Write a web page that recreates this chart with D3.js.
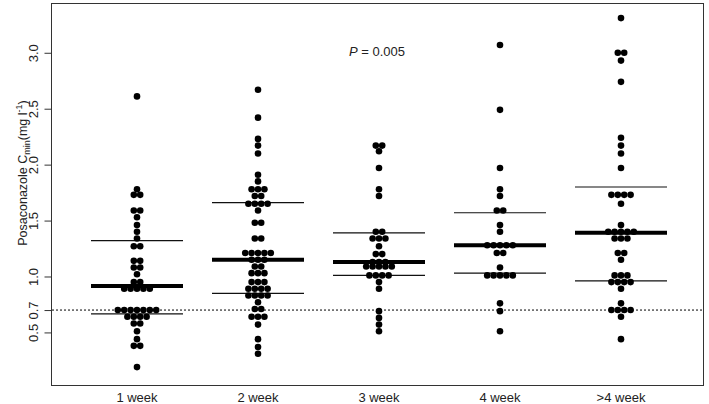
<!DOCTYPE html>
<html>
<head>
<meta charset="utf-8">
<script src="https://cdn.jsdelivr.net/npm/d3@7"></script>
<style>
  body { margin: 0; background: #fff; }
  svg { display: block; font-family: "Liberation Sans", Arial, sans-serif; }
</style>
</head>
<body>
<div id="chart"></div>
<script>
const groups = ["1 week", "2 week", "3 week", "4 week", ">4 week"];

const week1 = [2.61, 1.78, 1.73, 1.73, 1.59, 1.59, 1.53, 1.46, 1.40, 1.34, 1.27, 1.27,
  1.14, 1.14, 1.08, 1.08, 1.02, 0.95, 0.95, 0.89, 0.89, 0.89, 0.89, 0.89,
  0.70, 0.70, 0.70, 0.70, 0.70, 0.70, 0.70, 0.64, 0.64, 0.64, 0.64,
  0.58, 0.58, 0.51, 0.44, 0.38, 0.38, 0.19];
const week2 = [2.67, 2.42, 2.23, 2.17, 2.10, 1.91, 1.85, 1.78, 1.78, 1.78, 1.72, 1.72,
  1.65, 1.65, 1.65, 1.65, 1.59, 1.48, 1.48, 1.34, 1.34, 1.21, 1.21, 1.21, 1.21, 1.21,
  1.15, 1.15, 1.15, 1.09, 1.09, 1.03, 1.03, 1.03, 0.95, 0.95, 0.95,
  0.89, 0.89, 0.89, 0.89, 0.83, 0.83, 0.83, 0.83, 0.77, 0.71, 0.71,
  0.64, 0.64, 0.64, 0.57, 0.44, 0.37, 0.31];
const week3 = [2.17, 2.17, 2.12, 1.97, 1.78, 1.72, 1.40, 1.40, 1.34, 1.34, 1.34, 1.27,
  1.20, 1.20, 1.13, 1.13, 1.13, 1.09, 1.09, 1.09, 1.09, 1.09, 1.01, 1.01, 1.01, 1.01,
  0.95, 0.89, 0.69, 0.63, 0.57, 0.51];
const week4 = [3.07, 2.49, 1.97, 1.78, 1.72, 1.59, 1.59, 1.46, 1.40,
  1.28, 1.28, 1.28, 1.28, 1.28, 1.21, 1.21, 1.08, 1.01, 1.01, 1.01, 1.01, 1.01,
  0.76, 0.69, 0.51];
const week5 = [3.31, 3.00, 3.00, 2.93, 2.74, 2.24, 2.17, 2.10, 1.97, 1.73, 1.73, 1.73, 1.73,
  1.65, 1.46, 1.40, 1.40, 1.40, 1.40, 1.40, 1.34, 1.34, 1.34, 1.21, 1.21, 1.15,
  1.01, 1.01, 1.01, 0.95, 0.95, 0.95, 0.95, 0.89, 0.76, 0.70, 0.70, 0.70, 0.70, 0.64, 0.44];

const medians = [0.915, 1.15, 1.13, 1.28, 1.39];
const lowerQ = [0.665, 0.85, 1.01, 1.03, 0.96];
const upperQ = [1.32, 1.66, 1.39, 1.57, 1.80];

const yTicks = [0.5, 0.7, 1.0, 1.5, 2.0, 2.5, 3.0];
const cutoff = 0.7;
const pLabel = "0.005";

const width = 709, height = 404;
const margin = {top: 3, right: 5, bottom: 19, left: 51};

const svg = d3.select("#chart").append("svg")
  .attr("width", width)
  .attr("height", height);

let x = d3.scalePoint()
  .domain(groups)
  .range([137, 621]);

let y = d3.scaleLinear()
  .domain([0.03, 3.445])
  .range([height - margin.bottom, margin.top]);

const values = [week1, week2, week3, week4, week5];
const r = 3.3, step = 6.4;

// box
svg.append("rect")
  .attr("x", margin.left + 0.5)
  .attr("y", margin.top + 0.5)
  .attr("width", width - margin.left - margin.right - 1)
  .attr("height", height - margin.top - margin.bottom)
  .attr("fill", "none")
  .attr("stroke", "#333")
  .attr("stroke-width", 1);

// y axis
let yAxis = g => g
  .attr("transform", `translate(${margin.left + 0.5},0)`)
  .call(d3.axisLeft(y).tickValues(yTicks).tickSize(7).tickFormat(d3.format(".1f")))
  .call(g => g.select(".domain").attr("d", `M0,${y(3.0)}V${y(0.5)}`).attr("stroke", "#333"))
  .call(g => g.selectAll(".tick line").attr("stroke", "#333"))
  .call(g => g.selectAll(".tick text")
    .attr("x", 0).attr("y", 0).attr("dy", null)
    .attr("transform", "translate(-14,0) rotate(-90)")
    .attr("text-anchor", "middle")
    .style("font-size", "13px")
    .attr("fill", "#222"));

svg.append("g").call(yAxis);

// axis title
const title = svg.append("text")
  .attr("transform", "translate(27,173) rotate(-90)")
  .attr("text-anchor", "middle")
  .attr("fill", "#222")
  .style("font-size", "12.5px");
title.append("tspan").text("Posaconazole C");
title.append("tspan").attr("dy", 3).style("font-size", "9px").text("min");
title.append("tspan").attr("dy", -3).text("(mg l");
title.append("tspan").attr("dy", -5).style("font-size", "9px").text("-1");
title.append("tspan").attr("dy", 5).text(")");

// x labels
svg.append("g")
  .selectAll("text")
  .data(groups)
  .join("text")
    .attr("x", d => x(d))
    .attr("y", 402)
    .attr("text-anchor", "middle")
    .attr("fill", "#222")
    .style("font-size", "13px")
    .text(d => d);

// dotted cutoff
svg.append("line")
  .attr("x1", margin.left + 1)
  .attr("x2", width - margin.right - 1)
  .attr("y1", y(cutoff))
  .attr("y2", y(cutoff))
  .attr("stroke", "#000")
  .attr("stroke-width", 1)
  .attr("stroke-dasharray", "2,2");

// quartile + median lines
const halfLen = 46;
groups.forEach((g, i) => {
  [lowerQ[i], upperQ[i]].forEach(q => {
    svg.append("line")
      .attr("x1", x(g) - halfLen).attr("x2", x(g) + halfLen)
      .attr("y1", y(q)).attr("y2", y(q))
      .attr("stroke", "#111").attr("stroke-width", 1.2);
  });
  svg.append("line")
    .attr("x1", x(g) - halfLen).attr("x2", x(g) + halfLen)
    .attr("y1", y(medians[i])).attr("y2", y(medians[i]))
    .attr("stroke", "#000").attr("stroke-width", 4);
});

// beeswarm dots, rows centred on the group
groups.forEach((g, i) => {
  const rows = d3.group(values[i], v => v);
  const pts = [];
  rows.forEach((arr, v) => {
    arr.forEach((d, j) => pts.push({v: d, dx: (j - (arr.length - 1) / 2) * step}));
  });
  svg.append("g")
    .attr("fill", "#000")
    .selectAll("circle")
    .data(pts)
    .join("circle")
      .attr("cx", d => x(g) + d.dx)
      .attr("cy", d => y(d.v))
      .attr("r", r);
});

// p value
const pt = svg.append("text")
  .attr("x", 377)
  .attr("y", 56)
  .attr("text-anchor", "middle")
  .attr("fill", "#222")
  .style("font-size", "13px");
pt.append("tspan").style("font-style", "italic").text("P");
pt.append("tspan").text(" = " + pLabel);
</script>
</body>
</html>
